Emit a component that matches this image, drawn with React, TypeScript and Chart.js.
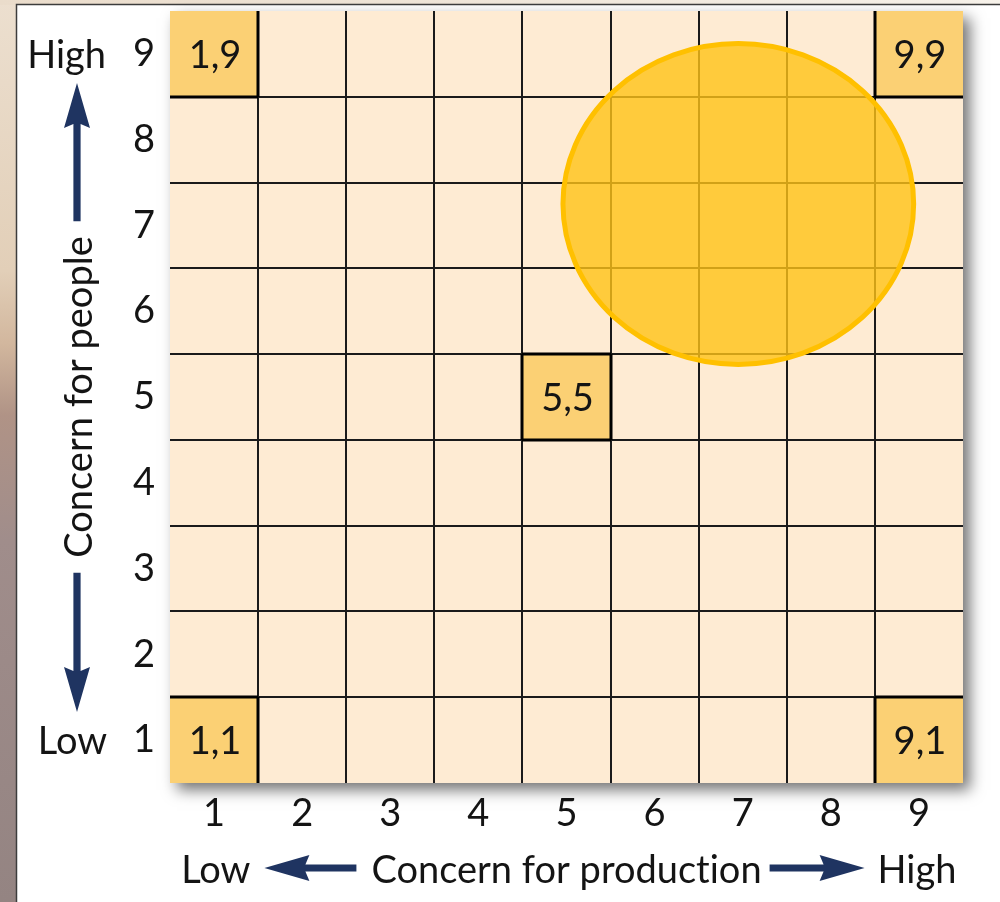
import { useEffect, useRef } from 'react';
import { Chart, registerables } from 'chart.js';

Chart.register(...registerables);

// ---- data ----
const productionTicks = [1, 2, 3, 4, 5, 6, 7, 8, 9];
const peopleTicks = [1, 2, 3, 4, 5, 6, 7, 8, 9];
const styleX = [1, 9, 5, 1, 9];
const styleY = [9, 9, 5, 1, 1];
const styleLabels = ['1,9', '9,9', '5,5', '1,1', '9,1'];
const zoneCenter = [6.95, 7.25];
const zoneRadius = [1.99, 1.87];
const xAxisTitle = 'Concern for production';
const yAxisTitle = 'Concern for people';
const lowLabel = 'Low';
const highLabel = 'High';

const FONT = 'Lato, "Noto Sans", sans-serif';
const FS = 38;
const NAVY = '#1f3461';

const noLig = (s: string) => s.replace(/ti/g, 't\u200ci').replace(/fi/g, 'f\u200ci');

function drawArrow(ctx: CanvasRenderingContext2D, x1: number, y1: number, x2: number, y2: number) {
  const dx = x2 - x1, dy = y2 - y1;
  const len = Math.hypot(dx, dy);
  const ux = dx / len, uy = dy / len;
  const px = -uy, py = ux;
  const head = 41, hw = 13, sw = 3.6;
  const bx = x2 - ux * head, by = y2 - uy * head;
  ctx.save();
  ctx.fillStyle = NAVY;
  ctx.beginPath();
  ctx.moveTo(x1 + px * sw, y1 + py * sw);
  ctx.lineTo(bx + ux * 2 + px * sw, by + uy * 2 + py * sw);
  ctx.lineTo(bx + px * sw, by + py * sw);
  ctx.lineTo(bx - ux * 4 + px * hw, by - uy * 4 + py * hw);
  ctx.lineTo(x2, y2);
  ctx.lineTo(bx - ux * 4 - px * hw, by - uy * 4 - py * hw);
  ctx.lineTo(bx - px * sw, by - py * sw);
  ctx.lineTo(x1 - px * sw, y1 - py * sw);
  ctx.closePath();
  ctx.fill();
  ctx.restore();
}

const backdropPlugin = {
  id: 'backdrop',
  beforeDraw(chart: any) {
    const { ctx, width: W, height: H } = chart;
    ctx.save();
    const g = ctx.createLinearGradient(0, 0, 0, H);
    g.addColorStop(0, '#ecdfcf');
    g.addColorStop(0.3, '#e2cfb8');
    g.addColorStop(0.38, '#d2b79e');
    g.addColorStop(0.46, '#b09386');
    g.addColorStop(0.6, '#a08d8b');
    g.addColorStop(1, '#948482');
    ctx.fillStyle = g;
    ctx.fillRect(0, 0, W, H);
    const g2 = ctx.createLinearGradient(0, 0, W, 0);
    g2.addColorStop(0, '#eadccb');
    g2.addColorStop(1, '#f7f2ea');
    ctx.fillStyle = g2;
    ctx.fillRect(0, 0, W, 5);
    ctx.fillStyle = '#ffffff';
    ctx.fillRect(17, 5, W - 17, H - 5);
    ctx.strokeStyle = '#3c3c3c';
    ctx.lineWidth = 1.5;
    ctx.beginPath();
    ctx.moveTo(16.5, H);
    ctx.lineTo(16.5, 4.5);
    ctx.lineTo(W, 4.5);
    ctx.stroke();
    ctx.restore();
  },
};

const gridPlugin = {
  id: 'gridCells',
  beforeDatasetsDraw(chart: any) {
    const { ctx } = chart;
    const xs = chart.scales.x, ys = chart.scales.y;
    const xMin = productionTicks[0] - 0.5, xMax = productionTicks[productionTicks.length - 1] + 0.5;
    const yMin = peopleTicks[0] - 0.5, yMax = peopleTicks[peopleTicks.length - 1] + 0.5;
    const x0 = xs.getPixelForValue(xMin), x1 = xs.getPixelForValue(xMax);
    const yT = ys.getPixelForValue(yMax), yB = ys.getPixelForValue(yMin);

    ctx.save();
    ctx.shadowColor = 'rgba(0,0,0,0.55)';
    ctx.shadowBlur = 14;
    ctx.shadowOffsetX = 7;
    ctx.shadowOffsetY = 7;
    ctx.fillStyle = '#feebd3';
    ctx.fillRect(x0, yT, x1 - x0, yB - yT);
    ctx.restore();

    ctx.save();
    // highlighted cells
    ctx.fillStyle = '#fbd074';
    for (let i = 0; i < styleX.length; i++) {
      const a = xs.getPixelForValue(styleX[i] - 0.5), b = xs.getPixelForValue(styleX[i] + 0.5);
      const c = ys.getPixelForValue(styleY[i] + 0.5), d = ys.getPixelForValue(styleY[i] - 0.5);
      ctx.fillRect(a, c, b - a, d - c);
    }
    // grid lines
    ctx.strokeStyle = '#1a1a1a';
    ctx.lineWidth = 2;
    ctx.beginPath();
    for (let i = 0; i < productionTicks.length - 1; i++) {
      const v = (productionTicks[i] + productionTicks[i + 1]) / 2;
      const px = Math.round(xs.getPixelForValue(v));
      ctx.moveTo(px, yT);
      ctx.lineTo(px, yB);
    }
    for (let i = 0; i < peopleTicks.length - 1; i++) {
      const v = (peopleTicks[i] + peopleTicks[i + 1]) / 2;
      const py = Math.round(ys.getPixelForValue(v));
      ctx.moveTo(x0, py);
      ctx.lineTo(x1, py);
    }
    ctx.stroke();
    // bold borders of highlighted cells
    ctx.strokeStyle = '#000';
    ctx.lineWidth = 3;
    ctx.beginPath();
    for (let i = 0; i < styleX.length; i++) {
      const l = styleX[i] - 0.5, r = styleX[i] + 0.5, t = styleY[i] + 0.5, bm = styleY[i] - 0.5;
      const a = Math.round(xs.getPixelForValue(l)), b = Math.round(xs.getPixelForValue(r));
      const c = Math.round(ys.getPixelForValue(t)), d = Math.round(ys.getPixelForValue(bm));
      if (l > xMin) { ctx.moveTo(a, c); ctx.lineTo(a, d); }
      if (r < xMax) { ctx.moveTo(b, c); ctx.lineTo(b, d); }
      if (t < yMax) { ctx.moveTo(a, c); ctx.lineTo(b, c); }
      if (bm > yMin) { ctx.moveTo(a, d); ctx.lineTo(b, d); }
    }
    ctx.stroke();
    // labels
    ctx.fillStyle = '#141414';
    ctx.font = `${FS}px ${FONT}`;
    ctx.textAlign = 'center';
    ctx.textBaseline = 'alphabetic';
    for (let i = 0; i < styleX.length; i++) {
      const cx = xs.getPixelForValue(styleX[i]);
      const cy = ys.getPixelForValue(styleY[i]);
      ctx.fillText(styleLabels[i], cx + 1, cy + FS * 0.36);
    }
    // zone ellipse
    const ecx = xs.getPixelForValue(zoneCenter[0]);
    const ecy = ys.getPixelForValue(zoneCenter[1]);
    const rx = xs.getPixelForValue(zoneCenter[0] + zoneRadius[0]) - ecx;
    const ry = ecy - ys.getPixelForValue(zoneCenter[1] + zoneRadius[1]);
    ctx.beginPath();
    ctx.ellipse(ecx, ecy, rx, ry, 0, 0, Math.PI * 2);
    ctx.fillStyle = 'rgba(255,195,22,0.8)';
    ctx.fill();
    ctx.strokeStyle = '#ffc000';
    ctx.lineWidth = 5;
    ctx.stroke();
    ctx.restore();
  },
  afterDraw(chart: any) {
    const { ctx } = chart;
    const xs = chart.scales.x, ys = chart.scales.y;
    const x0 = xs.getPixelForValue(0.5), x1 = xs.getPixelForValue(9.5);
    const yT = ys.getPixelForValue(9.5), yB = ys.getPixelForValue(0.5);
    ctx.save();
    ctx.fillStyle = '#141414';
    ctx.font = `${FS}px ${FONT}`;
    ctx.textBaseline = 'alphabetic';
    // y axis end labels
    ctx.textAlign = 'right';
    ctx.fillText(highLabel, 106, ys.getPixelForValue(peopleTicks[peopleTicks.length - 1]) + FS * 0.36);
    ctx.fillText(lowLabel, 107, ys.getPixelForValue(peopleTicks[0]) + FS * 0.36);
    // y title
    const cyT = (yT + yB) / 2;
    const wy = ctx.measureText(yAxisTitle).width;
    ctx.save();
    ctx.translate(92, cyT);
    ctx.rotate(-Math.PI / 2);
    ctx.textAlign = 'center';
    ctx.fillText(yAxisTitle, 0, 0);
    ctx.restore();
    drawArrow(ctx, 77, cyT - wy / 2 - 15, 77, 83);
    drawArrow(ctx, 77, cyT + wy / 2 + 15, 77, 712);
    // x title
    const cxT = (x0 + x1) / 2;
    const base = 883;
    const shown = noLig(xAxisTitle);
    const wx = ctx.measureText(shown).width;
    ctx.textAlign = 'center';
    ctx.fillText(shown, cxT, base);
    const L = cxT - wx / 2, R = cxT + wx / 2;
    drawArrow(ctx, L - 15, 868, L - 107, 868);
    drawArrow(ctx, R + 8, 868, R + 103, 868);
    ctx.textAlign = 'right';
    ctx.fillText(lowLabel, L - 121, base);
    ctx.textAlign = 'left';
    ctx.fillText(highLabel, R + 116, base);
    ctx.restore();
  },
};

export default function App() {
  const ref = useRef<HTMLCanvasElement | null>(null);
  useEffect(() => {
    if (!ref.current) return;
    const chart = new Chart(ref.current, {
      type: 'scatter',
      data: {
        datasets: [
          {
            data: styleX.map((x, i) => ({ x, y: styleY[i] })),
            pointRadius: 0,
            pointHoverRadius: 0,
          },
        ],
      },
      options: {
        responsive: false,
        animation: false,
        events: [],
        layout: { padding: { left: 0, top: 11, right: 37, bottom: 0 } },
        plugins: { legend: { display: false }, tooltip: { enabled: false } },
        scales: {
          x: {
            type: 'linear',
            min: 0.5,
            max: 9.5,
            afterBuildTicks: (s: any) => {
              s.ticks = productionTicks.map((v) => ({ value: v }));
            },
            afterFit: (s: any) => {
              s.height = 119;
              s.paddingLeft = 0;
              s.paddingRight = 0;
              s.paddingTop = 0;
              s.paddingBottom = 0;
            },
            grid: { display: false, drawTicks: false },
            border: { display: false },
            ticks: { font: { family: FONT, size: FS }, color: '#141414', padding: 8, maxRotation: 0, autoSkip: false },
          },
          y: {
            type: 'linear',
            min: 0.5,
            max: 9.5,
            afterBuildTicks: (s: any) => {
              s.ticks = peopleTicks.map((v) => ({ value: v }));
            },
            afterFit: (s: any) => {
              s.width = 170;
              s.paddingLeft = 0;
              s.paddingRight = 0;
              s.paddingTop = 0;
              s.paddingBottom = 0;
            },
            grid: { display: false, drawTicks: false },
            border: { display: false },
            ticks: { font: { family: FONT, size: FS }, color: '#141414', padding: 15, crossAlign: 'center', autoSkip: false },
          },
        },
      },
      plugins: [backdropPlugin, gridPlugin],
    } as any);
    return () => chart.destroy();
  }, []);
  return (
    <div style={{ position: 'fixed', left: 0, top: 0, width: 1000, height: 902 }}>
      <canvas ref={ref} width={1000} height={902} />
    </div>
  );
}
